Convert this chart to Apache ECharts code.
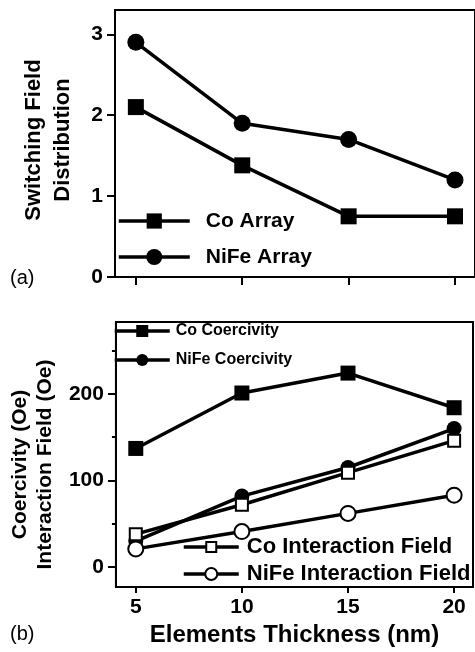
<!DOCTYPE html>
<html>
<head>
<meta charset="utf-8">
<script src="https://cdn.jsdelivr.net/npm/echarts@6/dist/echarts.min.js"></script>
<style>
  html, body { margin: 0; padding: 0; background: #fff; }
  #chart { width: 475px; height: 652px; }
</style>
</head>
<body>
<div id="chart"></div>
<script>
// Element thickness (nm) shared by both panels
const thickness = [5, 10, 15, 20];

// Panel (a): switching field distribution
const coArray = [2.1, 1.38, 0.75, 0.75];
const nifeArray = [2.9, 1.9, 1.7, 1.2];

// Panel (b): coercivity and interaction field (Oe)
const coCoercivity = [137, 201, 224, 184];
const nifeCoercivity = [30, 82, 115, 160];
const coInteraction = [38, 72, 109, 146];
const nifeInteraction = [21, 41, 62, 83];

// Tick values
const thicknessTicks = [5, 10, 15, 20];
const sfdTicks = [0, 1, 2, 3];
const fieldTicks = [0, 100, 200];
const fieldMinorTicks = [50, 150, 250];

const FONT = '"Liberation Sans", Arial, Helvetica, sans-serif';
const BOLD = { fontFamily: FONT, fontWeight: 'bold', color: '#000' };
const LINE_W = 3.5;

const pair = (xs, ys) => xs.map((x, i) => [x, ys[i]]);

function lineSeries(name, values, symbol, size, filled, panel) {
  return {
    type: 'line',
    name: name,
    data: pair(thickness, values),
    xAxisIndex: panel,
    yAxisIndex: panel,
    symbol: symbol,
    symbolSize: size,
    showAllSymbol: true,
    silent: true,
    emphasis: { disabled: true },
    lineStyle: { color: '#000', width: LINE_W },
    itemStyle: filled
      ? { color: '#000', borderWidth: 0 }
      : { color: '#fff', borderColor: '#000', borderWidth: 2 },
    z: 3
  };
}

function legendItem(name, left, centerY, itemWidth, itemHeight, fontSize, lineHeight, gap) {
  return {
    data: [name],
    left: left,
    top: centerY - Math.max(lineHeight, itemHeight) / 2,
    orient: 'vertical',
    padding: 0,
    itemWidth: itemWidth,
    itemHeight: itemHeight,
    selectedMode: false,
    lineStyle: { color: '#000', width: LINE_W },
    textStyle: Object.assign({ fontSize: fontSize, lineHeight: lineHeight, padding: [0, 0, 0, gap] }, BOLD),
    z: 5
  };
}

const axisLine = { show: true, onZero: false, lineStyle: { color: '#000', width: 2 } };

const chart = echarts.init(document.getElementById('chart'));

chart.setOption({
  animation: false,
  backgroundColor: '#fff',
  grid: [
    { left: 115, top: 10, width: 361, height: 267, show: true, borderColor: '#000', borderWidth: 2, backgroundColor: 'transparent', containLabel: false },
    { left: 113, top: 322, width: 360, height: 265, show: true, borderColor: '#000', borderWidth: 2, backgroundColor: 'transparent', containLabel: false }
  ],
  xAxis: [
    {
      type: 'value', gridIndex: 0, min: 4.02, max: 20.94,
      axisLine: axisLine,
      axisTick: { show: true, inside: false, length: 8, lineStyle: { color: '#000', width: 2 }, customValues: thicknessTicks },
      axisLabel: { show: false },
      splitLine: { show: false }
    },
    {
      type: 'value', gridIndex: 1, min: 4.065, max: 20.89,
      name: 'Elements Thickness (nm)', nameLocation: 'middle', nameGap: 36,
      nameTextStyle: Object.assign({ fontSize: 24 }, BOLD),
      axisLine: axisLine,
      axisTick: { show: true, inside: false, length: 6, lineStyle: { color: '#000', width: 2 }, customValues: thicknessTicks },
      axisLabel: Object.assign({ fontSize: 21, margin: 10, customValues: thicknessTicks }, BOLD),
      splitLine: { show: false }
    }
  ],
  yAxis: [
    {
      type: 'value', gridIndex: 0, min: 0, max: 3.3,
      name: 'Switching Field\nDistribution', nameLocation: 'middle', nameGap: 38,
      nameTextStyle: Object.assign({ fontSize: 22, lineHeight: 29, padding: [0, 0, 0, 7] }, BOLD),
      axisLine: axisLine,
      axisTick: { show: true, inside: false, length: 8, lineStyle: { color: '#000', width: 2 }, customValues: sfdTicks },
      axisLabel: Object.assign({ fontSize: 21, margin: 12, customValues: sfdTicks }, BOLD),
      splitLine: { show: false }
    },
    {
      type: 'value', gridIndex: 1, min: -23, max: 283,
      name: 'Coercivity (Oe)\nInteraction Field (Oe)', nameLocation: 'middle', nameGap: 55,
      nameTextStyle: Object.assign({ fontSize: 21, lineHeight: 25, padding: [0, 20, 0, 0] }, BOLD),
      axisLine: axisLine,
      axisTick: { show: true, inside: false, length: 8, lineStyle: { color: '#000', width: 2 }, customValues: fieldTicks },
      axisLabel: Object.assign({ fontSize: 21, margin: 12, customValues: fieldTicks }, BOLD),
      splitLine: { show: false }
    },
    {
      // minor ticks between the labelled ones
      type: 'value', gridIndex: 1, min: -23, max: 283, position: 'left',
      axisLine: { show: false, onZero: false },
      axisTick: { show: true, inside: false, length: 4, lineStyle: { color: '#000', width: 2 }, customValues: fieldMinorTicks },
      axisLabel: { show: false },
      splitLine: { show: false }
    }
  ],
  legend: [
    legendItem('Co Array', 117, 221, 71, 19, 21, 24, 11),
    legendItem('NiFe Array', 117, 257, 71, 20, 21, 24, 11),
    legendItem('Co Coercivity', 113, 331, 55, 15, 16, 19, 1),
    legendItem('NiFe Coercivity', 113, 360, 55, 15, 16, 19, 1),
    legendItem('Co Interaction Field', 182, 547, 55, 12.5, 22, 25, 3),
    legendItem('NiFe Interaction Field', 182, 574, 55, 15, 22, 25, 3)
  ],
  graphic: [
    { type: 'text', left: 10, top: 268, style: { text: '(a)', font: '20px ' + FONT, fill: '#000' } },
    { type: 'text', left: 10, top: 624, style: { text: '(b)', font: '20px ' + FONT, fill: '#000' } }
  ],
  series: [
    lineSeries('Co Array', coArray, 'rect', 16, true, 0),
    lineSeries('NiFe Array', nifeArray, 'circle', 17, true, 0),
    lineSeries('Co Coercivity', coCoercivity, 'rect', 15, true, 1),
    lineSeries('NiFe Coercivity', nifeCoercivity, 'circle', 15, true, 1),
    lineSeries('Co Interaction Field', coInteraction, 'rect', 12, false, 1),
    lineSeries('NiFe Interaction Field', nifeInteraction, 'circle', 15, false, 1)
  ]
});
</script>
</body>
</html>
